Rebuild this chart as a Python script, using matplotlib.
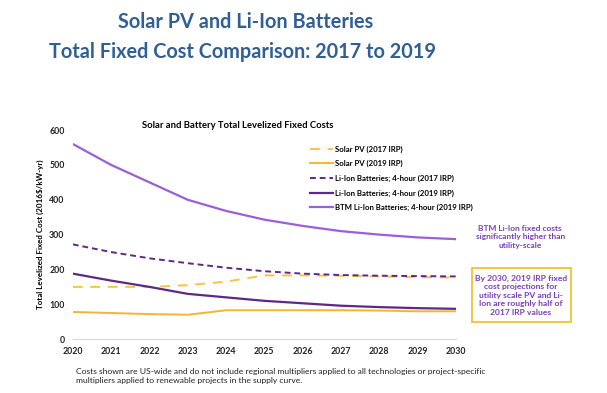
import matplotlib.pyplot as plt
from matplotlib.patches import Rectangle

years = [2020, 2021, 2022, 2023, 2024, 2025, 2026, 2027, 2028, 2029, 2030]
solar_2017 = [150, 150, 150, 155, 165, 183, 183, 182, 180, 178, 177]
solar_2019 = [78, 75, 72, 70, 83, 83, 83, 83, 82, 80, 80]
liion_2017 = [272, 250, 232, 218, 205, 195, 188, 184, 182, 181, 180]
liion_2019 = [188, 168, 150, 130, 120, 110, 103, 96, 92, 89, 87]
btm_2019 = [560, 500, 450, 400, 368, 343, 325, 310, 300, 292, 287]

plt.rcParams['font.family'] = ['Lato', 'DejaVu Sans']

fig = plt.figure(figsize=(6.07, 3.93), dpi=100)
ax = fig.add_axes([0.120, 0.137, 0.631, 0.532])

ax.plot(years, solar_2017, color='#f6c445', lw=1.4, ls=(0, (5, 4)), label='Solar PV (2017 IRP)')
ax.plot(years, solar_2019, color='#f2b536', lw=1.4, label='Solar PV (2019 IRP)')
ax.plot(years, liion_2017, color='#5b2a86', lw=1.4, ls=(0, (3, 2)), label='Li-Ion Batteries; 4-hour (2017 IRP)')
ax.plot(years, liion_2019, color='#5b2a86', lw=1.6, label='Li-Ion Batteries; 4-hour (2019 IRP)')
ax.plot(years, btm_2019, color='#9b5fd6', lw=1.6, label='BTM Li-Ion Batteries; 4-hour (2019 IRP)')

ax.set_xlim(2020, 2030)
ax.set_ylim(0, 600)
ax.set_xticks(years)
ax.set_yticks(range(0, 601, 100))
ax.tick_params(length=0, labelsize=6.3, pad=6)
for lbl in ax.get_xticklabels() + ax.get_yticklabels():
    lbl.set_fontweight('bold')
    lbl.set_color('#222222')
for s in ['top', 'right', 'left']:
    ax.spines[s].set_visible(False)
ax.spines['bottom'].set_color('#d9d9d9')
ax.set_ylabel('Total Levelized Fixed Cost (2016$/kW-yr)', fontsize=5.8, fontweight='bold', labelpad=4)

ax.set_title('Solar and Battery Total Levelized Fixed Costs', fontsize=6.8, fontweight='bold', pad=-4, x=0.43)

leg = ax.legend(loc='upper left', bbox_to_anchor=(0.60, 0.96), frameon=False, fontsize=5.6,
                handlelength=3, labelspacing=0.95, handletextpad=0.3)
for t in leg.get_texts():
    t.set_fontweight('bold')

fig.text(0.405, 0.945, 'Solar PV and Li-Ion Batteries', ha='center', va='center',
         fontsize=14.3, fontweight='bold', color='#2f5f95')
fig.text(0.400, 0.868, 'Total Fixed Cost Comparison: 2017 to 2019', ha='center', va='center',
         fontsize=14.3, fontweight='bold', color='#2f5f95')

fig.text(0.857, 0.397, 'BTM Li-Ion fixed costs\nsignificantly higher than\nutility-scale', ha='center', va='center',
         fontsize=6, fontweight='bold', color='#7b3fb5', linespacing=1.25)
fig.patches.append(Rectangle((0.777, 0.180), 0.163, 0.139, transform=fig.transFigure,
                             fc='white', ec='#f2c230', lw=1.3))
fig.text(0.858, 0.249, 'By 2030, 2019 IRP fixed\ncost projections for\nutility scale PV and Li-\nIon are roughly half of\n2017 IRP values',
         ha='center', va='center', fontsize=6.1, fontweight='bold', color='#7b3fb5', linespacing=1.25)

fig.text(0.125, 0.043, 'Costs shown are US-wide and do not include regional multipliers applied to all technologies or project-specific\nmultipliers applied to renewable projects in the supply curve.',
         ha='left', va='center', fontsize=6.1, color='#222222', linespacing=1.3)

fig.savefig('out.png', dpi=100)
